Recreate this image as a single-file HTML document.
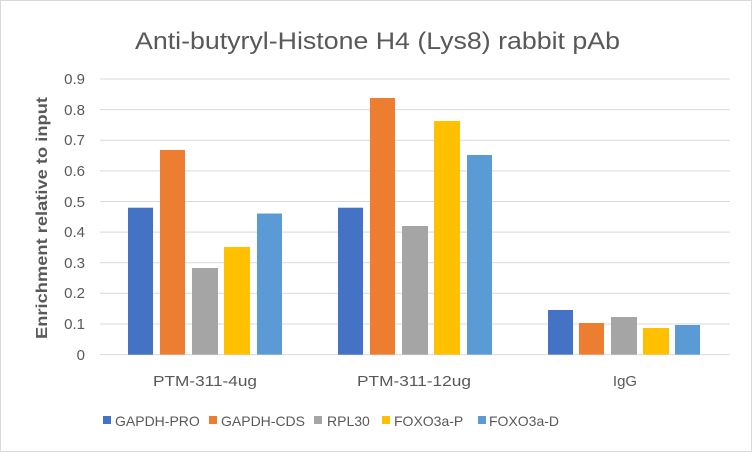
<!DOCTYPE html>
<html><head><style>
body{margin:0;background:#fff}
svg text{font-family:"Liberation Sans",sans-serif;fill:#595959}
</style></head><body>
<svg width="752" height="452" xmlns="http://www.w3.org/2000/svg">
<rect x="0.5" y="0.5" width="751" height="451" fill="#fff" stroke="#d9d9d9"/>
<text x="135" y="49" font-size="24" textLength="485" lengthAdjust="spacingAndGlyphs">Anti-butyryl-Histone H4 (Lys8) rabbit pAb</text>
<g stroke="#d9d9d9" stroke-width="1">
<line x1="100" x2="730" y1="79" y2="79"/><line x1="100" x2="730" y1="109.6" y2="109.6"/>
<line x1="100" x2="730" y1="140.2" y2="140.2"/><line x1="100" x2="730" y1="170.9" y2="170.9"/>
<line x1="100" x2="730" y1="201.5" y2="201.5"/><line x1="100" x2="730" y1="232.1" y2="232.1"/>
<line x1="100" x2="730" y1="262.7" y2="262.7"/><line x1="100" x2="730" y1="293.3" y2="293.3"/>
<line x1="100" x2="730" y1="324" y2="324"/><line x1="100" x2="730" y1="354.6" y2="354.6"/>
</g>
<g font-size="15" text-anchor="end">
<text x="85" y="84">0.9</text><text x="85" y="115">0.8</text><text x="85" y="145">0.7</text>
<text x="85" y="176">0.6</text><text x="85" y="207">0.5</text><text x="85" y="237">0.4</text>
<text x="85" y="268">0.3</text><text x="85" y="298">0.2</text><text x="85" y="329">0.1</text>
<text x="85" y="360">0</text>
</g>
<text transform="translate(47,218) rotate(-90)" font-size="16" font-weight="bold" text-anchor="middle" textLength="242" lengthAdjust="spacingAndGlyphs">Enrichment relative to input</text>
<g>
<rect x="128" y="207.7" width="25" height="147" fill="#4472c4"/>
<rect x="160" y="150" width="25" height="204.6" fill="#ed7d31"/>
<rect x="192" y="268" width="26" height="86.6" fill="#a5a5a5"/>
<rect x="224" y="247" width="26" height="107.6" fill="#ffc000"/>
<rect x="257" y="213.5" width="25" height="141.1" fill="#5b9bd5"/>

<rect x="338" y="207.7" width="25" height="147" fill="#4472c4"/>
<rect x="370" y="98" width="25" height="256.6" fill="#ed7d31"/>
<rect x="402" y="226" width="26" height="128.6" fill="#a5a5a5"/>
<rect x="434" y="121" width="26" height="233.6" fill="#ffc000"/>
<rect x="467" y="155" width="25" height="199.6" fill="#5b9bd5"/>

<rect x="548" y="310" width="25" height="44.6" fill="#4472c4"/>
<rect x="579" y="323" width="25" height="31.6" fill="#ed7d31"/>
<rect x="611" y="317" width="26" height="37.6" fill="#a5a5a5"/>
<rect x="643" y="328" width="26" height="26.6" fill="#ffc000"/>
<rect x="675" y="325" width="25" height="29.6" fill="#5b9bd5"/>
</g>
<g font-size="15">
<text x="153" y="386" textLength="104" lengthAdjust="spacingAndGlyphs">PTM-311-4ug</text>
<text x="357" y="386" textLength="114" lengthAdjust="spacingAndGlyphs">PTM-311-12ug</text>
<text x="625" y="386" text-anchor="middle">IgG</text>
</g>
<g font-size="14">
<rect x="103" y="416" width="8" height="8" fill="#4472c4"/><text x="115" y="426">GAPDH-PRO</text>
<rect x="209" y="416" width="8" height="8" fill="#ed7d31"/><text x="221" y="426">GAPDH-CDS</text>
<rect x="314" y="416" width="8" height="8" fill="#a5a5a5"/><text x="327" y="426">RPL30</text>
<rect x="382" y="416" width="8" height="8" fill="#ffc000"/><text x="394" y="426">FOXO3a-P</text>
<rect x="478" y="416" width="8" height="8" fill="#5b9bd5"/><text x="489" y="426">FOXO3a-D</text>
</g>
</svg>
</body></html>
